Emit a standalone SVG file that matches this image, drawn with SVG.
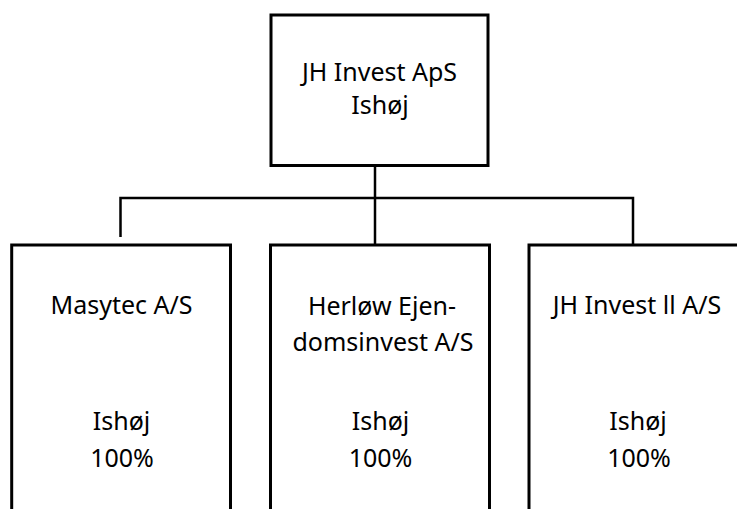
<svg xmlns="http://www.w3.org/2000/svg" width="737" height="509" viewBox="0 0 737 509">
<style>
.box{fill:#fff;stroke:#000;stroke-width:3}
.t{font-family:"Noto Sans","Open Sans",sans-serif;font-size:25px;fill:#000;text-anchor:middle}
.c{fill:none;stroke:#000;stroke-width:2.5}
</style>
<rect width="737" height="509" fill="#fff"/>
<g id="connectors">
<path class="c" d="M375 166V245"/>
<path class="c" d="M120.5 237V198H633V244"/>
</g>
<g id="parent">
<rect class="box" x="271" y="15" width="217" height="150.5"/>
<text class="t" x="379.5" y="81">JH Invest ApS</text>
<text class="t" x="380" y="114.3">Ishøj</text>
</g>
<g id="masytec">
<rect class="box" x="11.7" y="245" width="218.8" height="290"/>
<text class="t" x="121.5" y="313.5">Masytec A/S</text>
<text class="t" x="121.5" y="429.5">Ishøj</text>
<text class="t" x="122" y="466.5">100%</text>
</g>
<g id="herlow">
<rect class="box" x="270.5" y="245" width="219" height="290"/>
<text class="t" x="382" y="314.5">Herløw Ejen-</text>
<text class="t" x="383" y="350.5">domsinvest A/S</text>
<text class="t" x="380.5" y="429.5">Ishøj</text>
<text class="t" x="380.5" y="466.5">100%</text>
</g>
<g id="jhinvest2">
<rect class="box" x="529" y="245" width="230" height="290"/>
<text class="t" x="637" y="314">JH Invest ll A/S</text>
<text class="t" x="638" y="429.5">Ishøj</text>
<text class="t" x="639" y="466.5">100%</text>
</g>
</svg>
